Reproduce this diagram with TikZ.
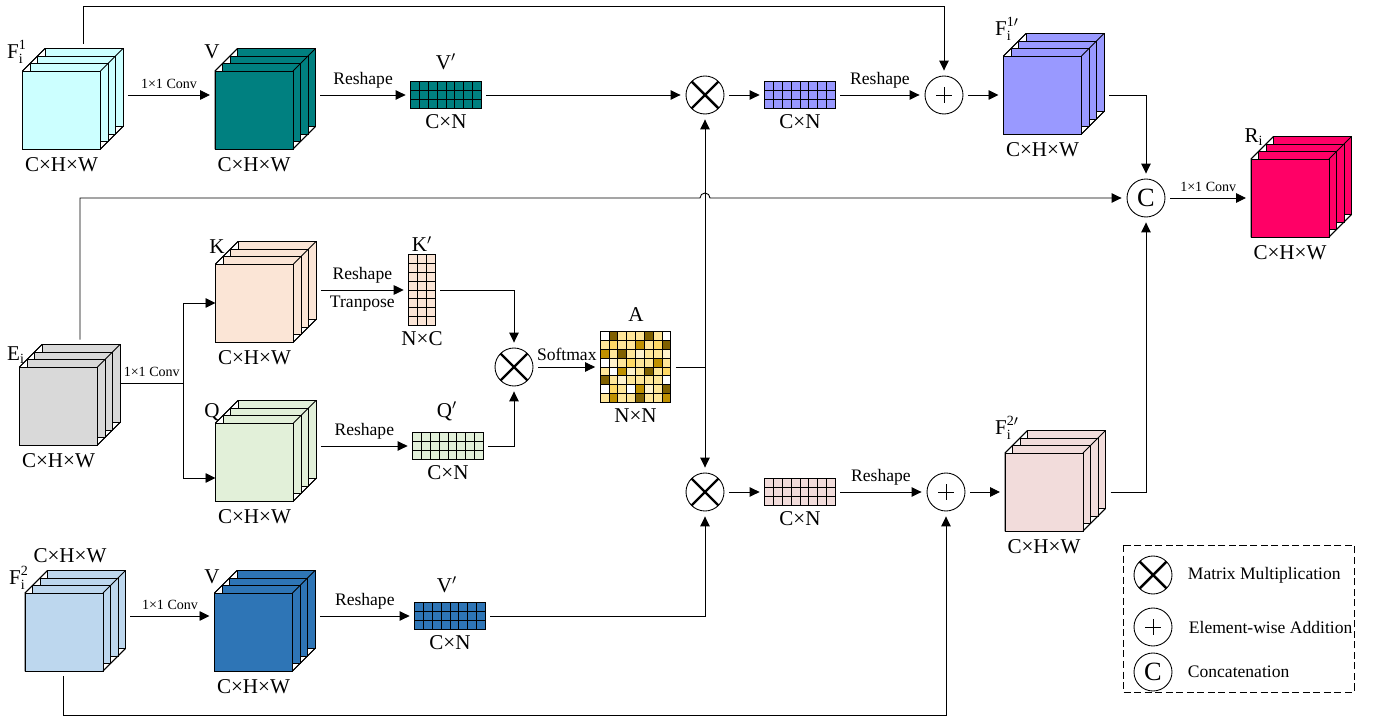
\documentclass[tikz,border=0pt]{standalone}
\usepackage{amsmath}
\usepackage{fontspec}
\setmainfont{Liberation Serif}
\usepackage{tikz}
\usetikzlibrary{arrows.meta,positioning,calc}

\definecolor{cyanF}{HTML}{CCFFFF}
\definecolor{tealV}{HTML}{008080}
\definecolor{lilac}{HTML}{9999FF}
\definecolor{rose}{HTML}{FF0066}
\definecolor{grayE}{HTML}{D9D9D9}
\definecolor{peachK}{HTML}{FBE5D6}
\definecolor{greenQ}{HTML}{E2F0D9}
\definecolor{pinkF}{HTML}{F2DCDB}
\definecolor{blueF}{HTML}{BDD7EE}
\definecolor{blueV}{HTML}{2E75B6}
\definecolor{aW}{HTML}{FFFFFF}
\definecolor{aD}{HTML}{7F6000}
\definecolor{aG}{HTML}{BF9000}
\definecolor{aM}{HTML}{FFD966}
\definecolor{aL}{HTML}{FFE699}
\definecolor{aV}{HTML}{FFF2CC}

\tikzset{
    face/.style={rectangle, draw, minimum size=1.56cm, inner sep=0pt, outer sep=0pt},
    matbox/.style={rectangle, draw, inner sep=0pt, outer sep=0pt},
    arr/.style={-{Triangle[length=2mm,width=1.9mm]}, shorten <=1mm, shorten >=1mm},
    arrt/.style={arr, shorten <=0pt, shorten >=0pt},
    lbl/.style={font=\fontsize{12}{14}\selectfont},
    txt/.style={font=\fontsize{10}{12}\selectfont},
    conv/.style={font=\fontsize{8}{10}\selectfont},
    op/.style={circle, draw, minimum size=0.76cm, inner sep=0pt},
    mul/.style={op, path picture={\draw[line width=1.4pt]
        (path picture bounding box.north west) -- (path picture bounding box.south east)
        (path picture bounding box.north east) -- (path picture bounding box.south west);}},
    add/.style={op, path picture={\draw
        ($(path picture bounding box.center)+(-0.16cm,0)$) -- ++(0.32cm,0)
        ($(path picture bounding box.center)+(0,-0.16cm)$) -- ++(0,0.32cm);}},
    cat/.style={op, font=\fontsize{15}{15}\selectfont}
}

% stacked feature map: name, front face centre, colour
\newcommand{\fmap}[3]{%
    \begin{scope}[shift={#2}]
        \filldraw[fill=white] (-39,39) -- (-39,-39) -- (-16.5,-61.5) -- (61.5,-61.5) -- (61.5,16.5) -- (39,39) -- cycle;
        \foreach \k in {3,2,1}
            \draw[fill=#3] (-39+7.5*\k,-39-7.5*\k) rectangle ++(78,78);
        \node[face, fill=#3] (#1) at (0,0) {};
        \draw (-39,-39) -- ++(22.5,-22.5) (39,-39) -- ++(22.5,-22.5) (39,39) -- ++(22.5,-22.5);
    \end{scope}}

% reshaped matrix: name, centre, cols, rows, colour
\newcommand{\gridmat}[5]{%
    \node[matbox, fill=#5, minimum width=#3*0.177cm, minimum height=#4*0.177cm] (#1) at #2 {};
    \pgfmathtruncatemacro\lastc{#3-1}
    \pgfmathtruncatemacro\lastr{#4-1}
    \foreach \i in {1,...,\lastc}
        \draw ($(#1.north west)+(\i*8.85,0)$) -- ++(0,#4*8.85);
    \foreach \j in {1,...,\lastr}
        \draw ($(#1.north west)+(0,\j*8.85)$) -- ++(#3*8.85,0);}

\begin{document}
\begin{tikzpicture}[x=0.02cm, y=-0.02cm, line width=0.5pt]
    \useasboundingbox (0,0) rectangle (1380,719);

    % Feature maps
    \fmap{F1}{(61.5,110)}{cyanF}
    \fmap{VT}{(254,110)}{tealV}
    \fmap{E}{(58.5,406)}{grayE}
    \fmap{K}{(254.5,303)}{peachK}
    \fmap{Q}{(254.5,462)}{greenQ}
    \fmap{F2}{(64,632)}{blueF}
    \fmap{VB}{(253.5,632)}{blueV}
    \fmap{F1p}{(1042.5,95)}{lilac}
    \fmap{F2p}{(1044,492)}{pinkF}
    \fmap{R}{(1290,198)}{rose}

    % Reshaped matrices
    \gridmat{VTm}{(446,95)}{8}{3}{tealV}
    \gridmat{PM}{(800,95)}{8}{3}{lilac}
    \gridmat{Km}{(422,290)}{3}{8}{peachK}
    \gridmat{Qm}{(448,446)}{8}{3}{greenQ}
    \gridmat{PKm}{(800,492)}{8}{3}{pinkF}
    \gridmat{VBm}{(450,616)}{8}{3}{blueV}

    % Attention map
    \coordinate (Anw) at (600.1,331.6);
    \foreach \row [count=\r from 0] in {{aW,aD,aL,aL,aL,aD,aL,aW},{aL,aM,aL,aL,aG,aL,aM,aD},
        {aG,aL,aD,aL,aV,aL,aL,aV},{aW,aV,aL,aM,aL,aL,aG,aL},{aL,aW,aG,aV,aL,aD,aL,aM},
        {aD,aL,aV,aL,aL,aL,aL,aW},{aW,aM,aL,aW,aG,aV,aL,aD},{aL,aG,aL,aL,aD,aL,aL,aG}}
        \foreach \c [count=\k from 0] in \row
            \fill[\c] ($(Anw)+(\k*8.85,\r*8.85)$) rectangle ++(8.85,8.85);
    \gridmat{A}{(635.5,367)}{8}{8}{none}

    % Operators
    \node[mul] (MT) at (705,95) {};
    \node[add] (AT) at (944,95) {};
    \node[mul] (MM) at (514,367) {};
    \node[mul] (MB) at (705,492) {};
    \node[add] (AB) at (946,492) {};
    \node[cat] (CC) at (1146,198) {C};

    % Names
    \node[lbl] at (17,52) {$\text{F}_{\text{i}}^{\text{1}}$};
    \node[lbl] at (212,52) {V};
    \node[lbl] at (446,62) {V$^{\prime}$};
    \node[lbl] at (1007,29) {$\text{F}_{\text{i}}^{\text{1}\prime}$};
    \node[lbl] at (1254,137) {$\text{R}_{\text{i}}$};
    \node[lbl] at (16,355) {$\text{E}_{\text{i}}$};
    \node[lbl] at (217,247) {K};
    \node[lbl] at (422,244) {K$^{\prime}$};
    \node[lbl] at (212,412) {Q};
    \node[lbl] at (447,411) {Q$^{\prime}$};
    \node[lbl] at (636,315) {A};
    \node[lbl] at (1007,428) {$\text{F}_{\text{i}}^{\text{2}\prime}$};
    \node[lbl] at (19,578) {$\text{F}_{\text{i}}^{\text{2}}$};
    \node[lbl] at (212,577) {V};
    \node[lbl] at (447,585) {V$^{\prime}$};

    % Sizes
    \node[lbl, below=0.05cm of F1] {C×H×W};
    \node[lbl, below=0.05cm of VT] {C×H×W};
    \node[lbl, below=0.05cm of E] {C×H×W};
    \node[lbl, below=0.05cm of K] {C×H×W};
    \node[lbl, below=0.05cm of Q] {C×H×W};
    \node[lbl, below=0.05cm of VB] {C×H×W};
    \node[lbl, below=0.05cm of F1p] {C×H×W};
    \node[lbl, below=0.05cm of F2p] {C×H×W};
    \node[lbl, below=0.05cm of R] {C×H×W};
    \node[lbl] at (70,556) {C×H×W};
    \node[lbl, below=0pt of VTm] {C×N};
    \node[lbl, below=0pt of PM] {C×N};
    \node[lbl, below=0pt of Km] {N×C};
    \node[lbl, below=0pt of Qm] {C×N};
    \node[lbl, below=0pt of A] {N×N};
    \node[lbl, below=0pt of PKm] {C×N};
    \node[lbl, below=0pt of VBm] {C×N};

    % Top branch
    \draw[arr] ($(F1.east |- VTm)+(22.5,0)$) -- node[above, conv] {1×1 Conv} (VT.west |- VTm);
    \draw[arr] ($(VT.east |- VTm)+(22.5,0)$) -- node[above, txt] {Reshape} (VTm.west);
    \draw[arr] (VTm.east) -- (MT.west);
    \draw[arr] (MT.east) -- (PM.west);
    \draw[arr] (PM.east) -- node[above, txt] {Reshape} (AT.west);
    \draw[arr] (AT.east) -- (F1p.west);
    \draw[arr] ($(F1.north)+(21.5,-22.5)$) -- ++(0,-42.5) -| (AT.north);
    \draw[arr] ($(F1p.east)+(22.5,0)$) -| (CC.north);

    % Attention branch
    \draw ($(E.east)+(22.5,-23)$) -- node[above, conv] {1×1 Conv} ++(63.5,0) coordinate (br);
    \draw[arrt] (br) |- (K.west);
    \draw[arrt] (br) |- ($(Q.west)+(0,16)$);
    \draw[arr] ($(K.east |- Km)+(22.5,0)$) -- node[above, txt] {Reshape} node[below, txt] {Tranpose} (Km.west);
    \draw[arr] ($(Q.east |- Qm)+(22.5,0)$) -- node[above, txt] {Reshape} (Qm.west);
    \draw[arr] (Km.east) -| (MM.north);
    \draw[arr] (Qm.east) -| (MM.south);
    \draw[arr] (MM.east) -- node[above, txt] {Softmax} (A.west);
    \draw[arr] (A.east) -| (MT.south);
    \draw[arr] (A.east) -| (MB.north);
    \draw[arr] ($(E.north)+(21.5,-22.5)$) |- ($(MT |- CC)+(-5,0)$)
        arc[start angle=180, end angle=0, radius=0.1cm] -- (CC.west);

    % Bottom branch
    \draw[arr] ($(F2.east |- VBm)+(22.5,0)$) -- node[above, conv] {1×1 Conv} (VB.west |- VBm);
    \draw[arr] ($(VB.east |- VBm)+(22.5,0)$) -- node[above, txt] {Reshape} (VBm.west);
    \draw[arr] (VBm.east) -| (MB.south);
    \draw[arr] (MB.east) -- (PKm.west);
    \draw[arr] (PKm.east) -- node[above, txt] {Reshape} (AB.west);
    \draw[arr] (AB.east) -- (F2p.west);
    \draw[arr] ($(F2.south)+(-1,0)$) -- ++(0,44) -| (AB.south);
    \draw[arr] ($(F2p.east)+(22.5,0)$) -| (CC.south);

    % Output
    \draw[arr] (CC.east) -- node[above, conv] {1×1 Conv} (R.west);

    % Legend
    \draw[dash pattern=on 4pt off 2pt] (1123,545) rectangle (1354,692);
    \node[mul] (lgM) at (1153,575) {};
    \node[add] (lgA) at (1153,627) {};
    \node[cat] (lgC) at (1153,672) {C};
    \node[txt, right=0.3cm of lgM, inner sep=0pt] {Matrix Multiplication};
    \node[txt, right=0.32cm of lgA, inner sep=0pt] {Element-wise Addition};
    \node[txt, right=0.3cm of lgC, inner sep=0pt] {Concatenation};
\end{tikzpicture}
\end{document}
